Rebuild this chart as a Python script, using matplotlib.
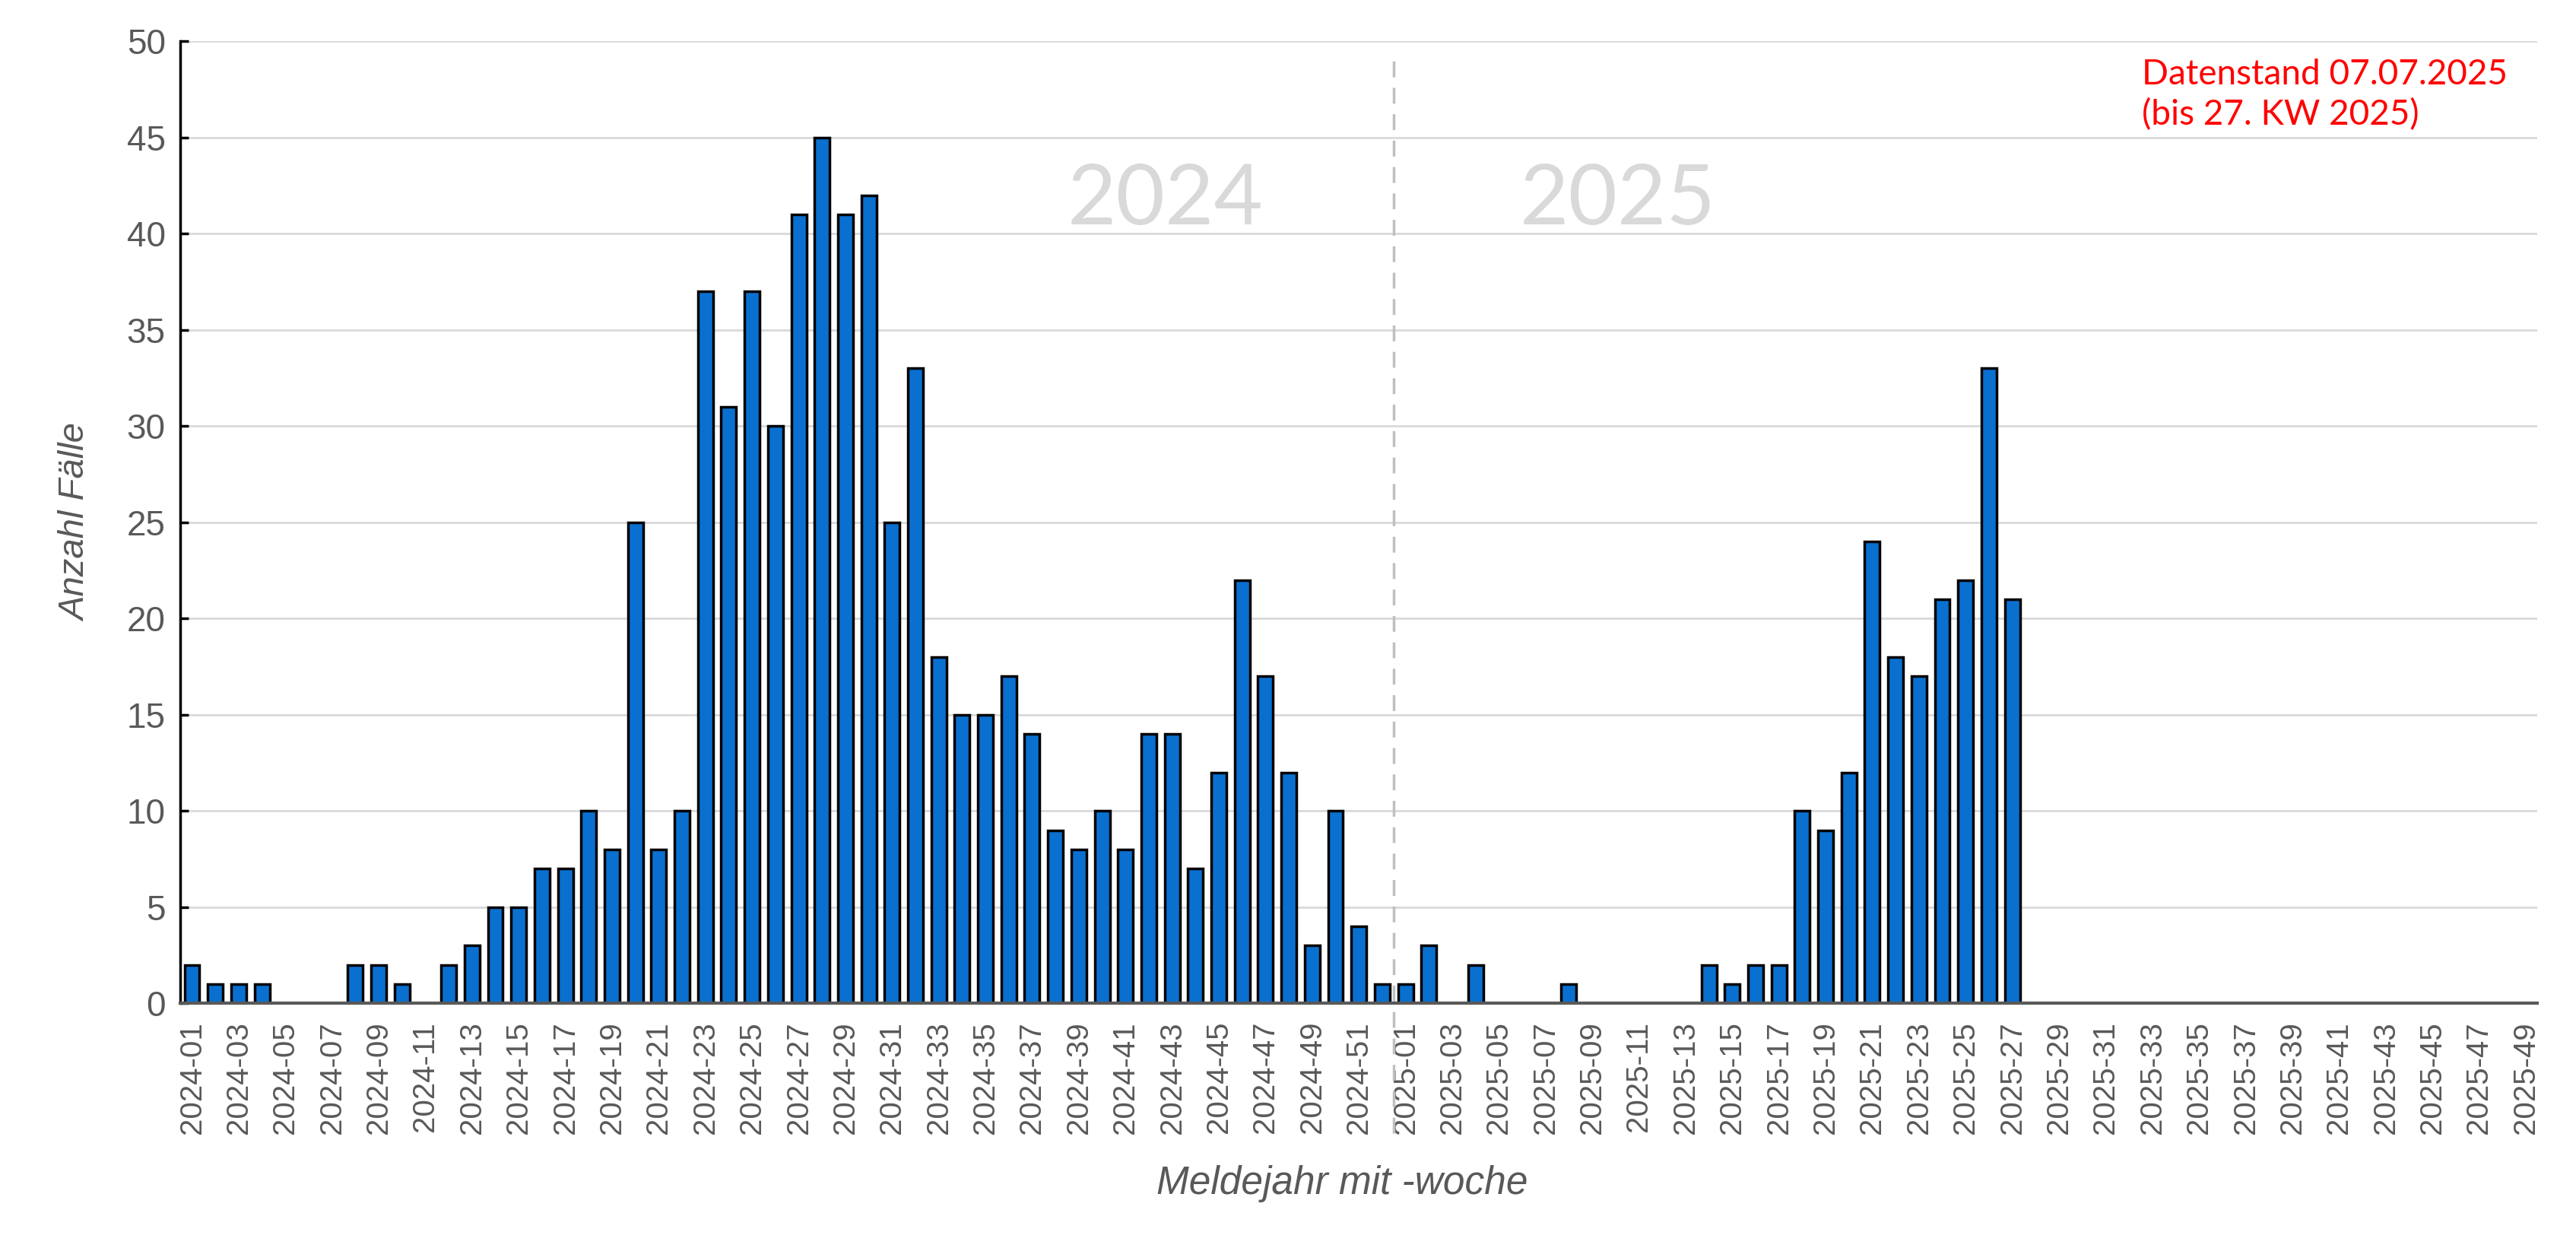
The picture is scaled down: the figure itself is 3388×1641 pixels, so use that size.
import matplotlib
matplotlib.use('Agg')
import matplotlib.pyplot as plt
import numpy as np

# weekly case counts, 2024-01 .. 2024-52 and 2025-01 .. 2025-49
cases_2024 = [2, 1, 1, 1, 0, 0, 0, 2, 2, 1, 0, 2, 3, 5, 5, 7, 7, 10, 8, 25,
              8, 10, 37, 31, 37, 30, 41, 45, 41, 42, 25, 33, 18, 15, 15, 17, 14, 9, 8, 10,
              8, 14, 14, 7, 12, 22, 17, 12, 3, 10, 4, 1]
cases_2025 = [1, 3, 0, 2, 0, 0, 0, 1, 0, 0, 0, 0, 0, 2, 1, 2, 2, 10, 9, 12,
              24, 18, 17, 21, 22, 33, 21] + [0] * 22

weeks = ['2024-%02d' % w for w in range(1, 53)] + ['2025-%02d' % w for w in range(1, 50)]
values = cases_2024 + cases_2025
year_labels = ['2024', '2025']
note = 'Datenstand 07.07.2025\n(bis 27. KW 2025)'

tick_font = ['Liberation Sans Narrow', 'Liberation Sans', 'DejaVu Sans']
label_grey = '#595959'

fig = plt.figure(figsize=(33.88, 16.41), dpi=100)
ax = fig.add_axes([0.070, 0.196, 0.915, 0.771])

x = np.arange(len(weeks))
ax.bar(x, values, width=0.65, color='#0A70D0', edgecolor='black', linewidth=2.5, zorder=3)

ax.set_xlim(-0.5, len(weeks) - 0.5)
ax.set_ylim(0, 50)
ax.set_yticks(range(0, 51, 5))
ax.yaxis.grid(True, color='#D9D9D9', linewidth=2, zorder=0)
ax.set_xticks(x[::2])
ax.set_xticklabels(weeks[::2], rotation=90, family=tick_font, fontsize=29, color=label_grey)
for lab in ax.get_yticklabels():
    lab.set_family(tick_font)
    lab.set_fontsize(33)
    lab.set_color(label_grey)
ax.tick_params(axis='x', length=0, pad=17)
ax.tick_params(axis='y', direction='in', length=8, width=2.5, pad=14, color='black')

ax.spines['top'].set_visible(False)
ax.spines['right'].set_visible(False)
ax.spines['left'].set_linewidth(2.5)
ax.spines['left'].set_color('black')
ax.spines['bottom'].set_linewidth(3)
ax.spines['bottom'].set_color(label_grey)
ax.spines['bottom'].set_zorder(4)

# year boundary
ax.axvline(len(cases_2024) - 0.5, ymin=-0.135, ymax=0.99, color='#BFBFBF', linestyle=(0, (6, 4)),
           linewidth=2.5, clip_on=False, zorder=2)

ax.text(41.7, 41.7, year_labels[0], fontsize=80, color='#D9D9D9', family='Lato',
        ha='center', va='center', zorder=1)
ax.text(61.1, 41.7, year_labels[1], fontsize=80, color='#D9D9D9', family='Lato',
        ha='center', va='center', zorder=1)

fig.text(0.8315, 0.953, note, fontsize=33, color='#FF0000', family='Lato',
         ha='left', va='top', linespacing=1.3)

ax.set_ylabel('Anzahl Fälle', fontsize=34, style='italic', color=label_grey,
              family=['Liberation Sans', 'DejaVu Sans'])
ax.set_xlabel('Meldejahr mit -woche', fontsize=37, style='italic', color=label_grey,
              family=['Liberation Sans', 'DejaVu Sans'])
ax.yaxis.set_label_coords(-0.037, 0.5)
ax.xaxis.set_label_coords(0.493, -0.168)

fig.savefig('out.png', dpi=100, facecolor='white')
